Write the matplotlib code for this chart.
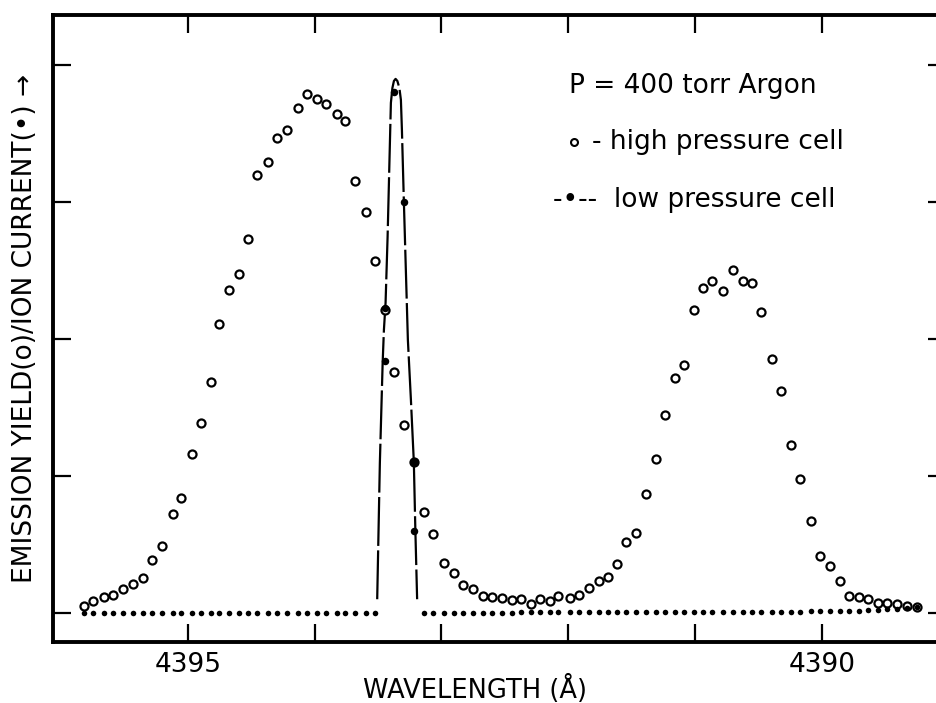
"""Emission yield vs. wavelength, high- and low-pressure cell (P = 400 torr Argon)."""
import matplotlib
matplotlib.use("Agg")
import matplotlib.pyplot as plt

plt.rcParams["font.family"] = ["DejaVu Sans"]

# wavelength grid of the scan (Å)
WAVELENGTH = [
    4395.820, 4395.747, 4395.662, 4395.589, 4395.515, 4395.436, 4395.355, 4395.282,
    4395.205, 4395.121, 4395.053, 4394.971, 4394.895, 4394.821, 4394.753, 4394.674,
    4394.600, 4394.524, 4394.453, 4394.371, 4394.296, 4394.219, 4394.135, 4394.064,
    4393.985, 4393.914, 4393.827, 4393.759, 4393.681, 4393.599, 4393.525, 4393.446,
    4393.373, 4393.294, 4393.218, 4393.136, 4393.068, 4392.983, 4392.905, 4392.829,
    4392.755, 4392.676, 4392.603, 4392.524, 4392.447, 4392.374, 4392.297, 4392.224,
    4392.145, 4392.080, 4391.987, 4391.914, 4391.838, 4391.761, 4391.688, 4391.617,
    4391.543, 4391.465, 4391.383, 4391.304, 4391.236, 4391.159, 4391.086, 4391.009,
    4390.936, 4390.862, 4390.778, 4390.702, 4390.623, 4390.552, 4390.476, 4390.394,
    4390.321, 4390.245, 4390.168, 4390.087, 4390.016, 4389.937, 4389.856, 4389.785,
    4389.706, 4389.635, 4389.558, 4389.485, 4389.409, 4389.330, 4389.251,
]

# high pressure cell, emission yield (open circles)
HIGH_Y = [
    0.051, 0.090, 0.119, 0.129, 0.173, 0.212, 0.255, 0.387,
    0.491, 0.720, 0.837, 1.161, 1.385, 1.684, 2.109, 2.355,
    2.472, 2.730, 3.199, 3.294, 3.469, 3.526, 3.686, 3.791,
    3.752, 3.715, 3.645, 3.591, 3.151, 2.925, 2.569, 2.212,
    1.757, 1.372, 1.104, 0.739, 0.574, 0.367, 0.290, 0.202,
    0.177, 0.124, 0.119, 0.107, 0.095, 0.100, 0.066, 0.100,
    0.090, 0.124, 0.107, 0.134, 0.185, 0.236, 0.263, 0.360,
    0.520, 0.586, 0.866, 1.126, 1.447, 1.713, 1.812, 2.212,
    2.372, 2.421, 2.353, 2.504, 2.421, 2.407, 2.197, 1.852,
    1.618, 1.224, 0.978, 0.672, 0.414, 0.345, 0.231, 0.126,
    0.119, 0.104, 0.073, 0.075, 0.066, 0.051, 0.042,
]

# low pressure cell, ion current (filled dots): baseline away from the line
LOW_BASE_WL = WAVELENGTH[:31] + WAVELENGTH[35:]
LOW_BASE_Y = [
    0.00, 0.00, 0.00, 0.00, 0.00, 0.00, 0.00, 0.00, 0.00, 0.00,
    0.00, 0.00, 0.00, 0.00, 0.00, 0.00, 0.00, 0.00, 0.00, 0.00,
    0.00, 0.00, 0.00, 0.00, 0.00, 0.00, 0.00, 0.00, 0.00, 0.00,
    0.00,
    0.00, 0.00, 0.00, 0.00, 0.00, 0.00, 0.00, 0.00, 0.00, 0.00,
    0.01, 0.01, 0.01, 0.01, 0.01, 0.01, 0.01, 0.01, 0.01, 0.01,
    0.01, 0.01, 0.01, 0.01, 0.01, 0.01, 0.01, 0.01, 0.01, 0.01,
    0.01, 0.01, 0.01, 0.01, 0.01, 0.01, 0.01, 0.01, 0.01, 0.01,
    0.015, 0.015, 0.015, 0.015, 0.015, 0.015, 0.02, 0.025, 0.03, 0.03,
    0.035, 0.04,
]
# low pressure cell, points on the narrow line
LOW_PEAK_WL = [4393.446, 4393.446, 4393.378, 4393.294, 4393.218, 4393.218]
LOW_PEAK_Y = [1.842, 2.226, 3.801, 3.002, 1.104, 0.599]

# hand-drawn curve through the low pressure line
CURVE_WL = [
    4393.507, 4393.486, 4393.464, 4393.454, 4393.441, 4393.425, 4393.412, 4393.399,
    4393.387, 4393.375, 4393.362, 4393.348, 4393.332, 4393.320, 4393.312, 4393.297,
    4393.281, 4393.265, 4393.241, 4393.218, 4393.206, 4393.192,
]
CURVE_Y = [
    0.10, 1.095, 1.825, 2.066, 2.263, 2.745, 3.234, 3.723,
    3.832, 3.883, 3.898, 3.883, 3.832, 3.745, 3.526, 3.015,
    2.504, 1.993, 1.555, 1.102, 0.606, 0.10,
]

XTICKS = [4395, 4394, 4393, 4392, 4391, 4390]
XTICKLABELS = ["4395", "", "", "", "", "4390"]
YTICKS = [0, 1, 2, 3, 4]

fig = plt.figure(figsize=(9.36, 7.03), dpi=100)
ax = fig.add_axes([0.0566, 0.0868, 0.954, 0.892])

ax.plot(CURVE_WL, CURVE_Y, color="black", lw=1.6, linestyle=(0, (22, 2)))
ax.plot(WAVELENGTH, HIGH_Y, "o", ms=5.8, mfc="white", mec="black", mew=1.6,
        linestyle="none")
# dots drawn over the circles, as in the original where they coincide
ax.plot(LOW_BASE_WL, LOW_BASE_Y, "o", ms=4.0, color="black", mew=0)
ax.plot(LOW_PEAK_WL, LOW_PEAK_Y, "o", ms=5.4, color="black", mew=0)

ax.set_xlim(4396.065, 4389.02)
ax.set_ylim(-0.212, 4.365)
ax.set_xticks(XTICKS)
ax.set_xticklabels(XTICKLABELS, fontsize=19)
ax.set_yticks(YTICKS)
ax.set_yticklabels([])
ax.tick_params(direction="in", length=13, width=1.6, top=True, right=True, pad=7)
for s in ax.spines.values():
    s.set_linewidth(2.8)

ax.set_xlabel("WAVELENGTH (Å)", fontsize=18.5, va="center")
ax.xaxis.set_label_coords(0.4726, -0.075)
ax.set_ylabel("EMISSION YIELD(o)/ION CURRENT(•) →", fontsize=19, labelpad=4)

# legend, lettered by hand as in the original
ax.text(0.578, 0.887, "P = 400 torr Argon", transform=ax.transAxes,
        fontsize=19, va="center", ha="left")
ax.plot([0.583], [0.797], "o", ms=5.0, mfc="white", mec="black", mew=1.5,
        transform=ax.transAxes)
ax.text(0.604, 0.797, "- high pressure cell", transform=ax.transAxes,
        fontsize=19, va="center", ha="left")
ax.text(0.560, 0.705, "-•--  low pressure cell", transform=ax.transAxes,
        fontsize=19, va="center", ha="left")

fig.savefig("out.png", dpi=100)
